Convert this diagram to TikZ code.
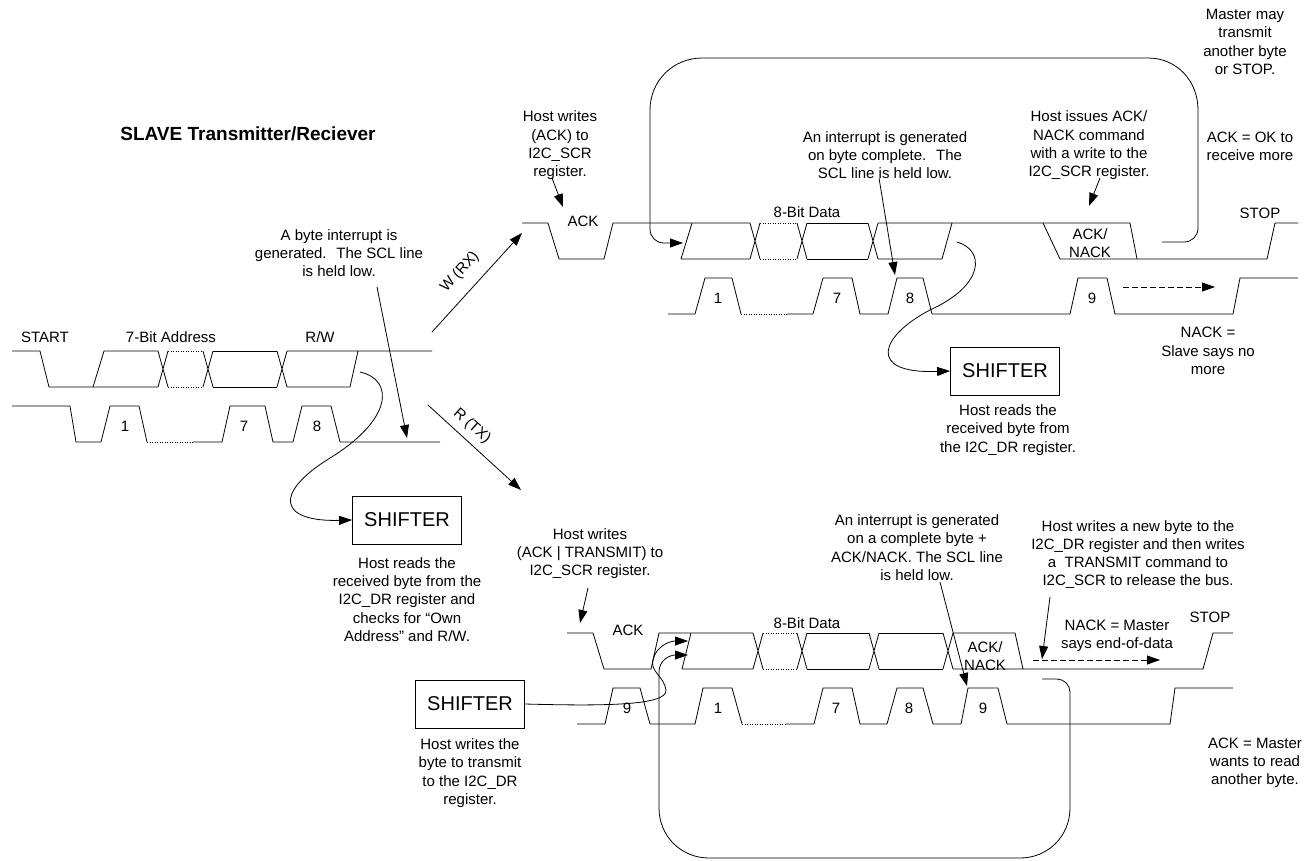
\documentclass[tikz,border=0pt]{standalone}
\usepackage{fontspec}
\setmainfont{Liberation Sans}
\usetikzlibrary{arrows.meta}
\newcommand{\notefont}{\fontsize{15}{18.3}\selectfont}
\tikzset{
  wave/.style={line width=0.8pt},
  dotw/.style={line width=0.8pt, dash pattern=on 1pt off 1.5pt},
  note/.style={font=\notefont, align=center, inner sep=0pt},
  shifter/.style={draw, line width=0.8pt, minimum width=109pt, minimum height=48pt, inner sep=0pt, font=\fontsize{20}{24}\selectfont},
  ptr/.style={-{Triangle[length=13pt,width=9pt]}, line width=0.8pt},
  dptr/.style={ptr, dash pattern=on 6pt off 3pt},
}
% X crossing of a data cell: centre x, high y, low y
\newcommand{\xing}[3]{\draw[wave] (#1-5,#2) -- (#1+5,#3) (#1-5,#3) -- (#1+5,#2);}

\begin{document}
\begin{tikzpicture}[x=1pt,y=-1pt]
  \useasboundingbox (0,0) rectangle (1312,860);
  \node[font=\fontsize{19}{22}\selectfont\bfseries] (title) at (248,134) {SLAVE Transmitter/Reciever};

  % address byte
  \draw[wave] (12,351) -- (40,351) -- (49,387) -- (158,387);
  \draw[wave] (93,387) -- (104,351) -- (158,351);
  \xing{163}{351}{387}
  \draw[dotw] (168,351) -- (203,351) (168,387) -- (203,387);
  \xing{208}{351}{387}
  \draw[wave] (213,351) -- (277,351) (213,387) -- (277,387);
  \xing{282}{351}{387}
  \draw[wave] (287,351) -- (432,351) (287,387) -- (350,387) -- (358,351);
  \draw[wave] (12,406) -- (70,406) -- (76,442) -- (101,442) -- (110,406) -- (139,406) -- (147,442);
  \draw[dotw] (147,442) -- (193,442);
  \draw[wave] (193,442) -- (222,442) -- (230,406) -- (265,406) -- (273,442) -- (293,442) -- (302,406) -- (331,406) -- (340,442) -- (440,442);
  \node[note] (start) at (45,337) {START};
  \node[note] (addr) at (171,337) {7-Bit Address};
  \node[note] (rw) at (320,337) {R/W};
  \node[note] (a1) at (125,426) {1};
  \node[note] (a7) at (244,426) {7};
  \node[note] (a8) at (317,426) {8};

  \node[note] (byteint) at (339,253) {A byte interrupt is\\generated.~ The SCL line\\is held low.};
  \coordinate (bi0) at (377,287);
  \coordinate (bi1) at (407,438);
  \draw[ptr] (bi0) -- (bi1);

  \node[shifter] (shiftL) at (407,520) {SHIFTER};
  \node[note] (rdaddr) at (407,599.5) {Host reads the\\received byte from the\\I2C\_DR register and\\checks for “Own\\Address” and R/W.};
  \coordinate (rwout) at (360,372);
  \draw[ptr] (rwout) .. controls (395,380) and (392,420) .. (330,458) .. controls (272,494) and (280,522) .. (shiftL.west);

  % branches
  \coordinate (wr0) at (432,332);
  \coordinate (wr1) at (522,233);
  \draw[ptr] (wr0) -- (wr1);
  \node[note, rotate=48] (wrx) at (460,272) {W (RX)};
  \coordinate (rt0) at (428,405);
  \coordinate (rt1) at (521,490);
  \draw[ptr] (rt0) -- (rt1);
  \node[note, rotate=-42] (rtx) at (472,426) {R (TX)};

  % receive byte
  \draw[wave] (522,223) -- (548,223) -- (559,259) -- (604,259) -- (613,223) -- (750,223);
  \draw[wave] (681,259) -- (692,223) (681,259) -- (750,259);
  \xing{755}{223}{259}
  \draw[dotw] (760,223) -- (797,223) (760,259) -- (797,259);
  \xing{802}{223}{259}
  \draw[wave] (807,223) -- (868,223) (807,259) -- (868,259);
  \xing{873}{223}{259}
  \draw[wave] (878,223) -- (1130,223) -- (1137,259) (878,259) -- (942,259) -- (952,223);
  \draw[wave] (1043,223) -- (1060,259) -- (1267,259) -- (1275,223) -- (1298,223);
  \draw[wave] (668,314) -- (695,314) -- (705,278) -- (732,278) -- (741,314);
  \draw[dotw] (741,314) -- (787,314);
  \draw[wave] (787,314) -- (813,314) -- (823,278) -- (852,278) -- (860,314) -- (888,314) -- (897,278) -- (923,278) -- (932,314) -- (1070,314) -- (1078,278) -- (1107,278) -- (1115,314) -- (1233,314) -- (1240,278) -- (1298,278);
  \node[note] (rack) at (583,221) {ACK};
  \node[note] (rdata) at (807,212) {8-Bit Data};
  \node[note] (rnack) at (1090,243) {ACK/\\NACK};
  \node[note] (rstop) at (1260,213) {STOP};
  \node[note] (r1) at (718,298) {1};
  \node[note] (r7) at (837,298) {7};
  \node[note] (r8) at (910,298) {8};
  \node[note] (r9) at (1092,298) {9};

  \node[note] (ackw) at (560,145.5) {Host writes\\(ACK) to\\I2C\_SCR\\register.};
  \coordinate (aw0) at (552,178);
  \coordinate (aw1) at (563,207);
  \draw[ptr] (aw0) -- (aw1);
  \node[note] (intup) at (885,155) {An interrupt is generated\\on byte complete.~ The\\SCL line is held low.};
  \coordinate (iu0) at (879,178);
  \coordinate (iu1) at (895,275);
  \draw[ptr] (iu0) -- (iu1);
  \node[note] (issue) at (1089,145.5) {Host issues ACK/\\NACK command\\with a write to the\\I2C\_SCR register.};
  \coordinate (is0) at (1100,178);
  \coordinate (is1) at (1089,206);
  \draw[ptr] (is0) -- (is1);
  \node[note] (master) at (1245,42) {Master may\\transmit\\another byte\\or STOP.};
  \node[note] (okmore) at (1250,146) {ACK = OK to\\receive more};
  \node[note] (nackup) at (1208,351) {NACK =\\Slave says no\\more};
  \coordinate (lp0) at (1162,242);
  \coordinate (lp1) at (683,243);
  \draw[ptr] (lp0) -- (1184,242) .. controls (1192,242) and (1198,236) .. (1198,228) -- (1198,110)
    .. controls (1198,81) and (1177,58) .. (1148,58) -- (702,58)
    .. controls (673,58) and (650,81) .. (650,110) -- (650,229)
    .. controls (650,237) and (656,243) .. (664,243) -- (lp1);
  \coordinate (up0) at (1123,287);
  \coordinate (up1) at (1215,287);
  \draw[dptr] (up0) -- (up1);

  \node[shifter] (shiftR) at (1005,371) {SHIFTER};
  \node[note] (rdup) at (1008,430) {Host reads the\\received byte from\\the I2C\_DR register.};
  \coordinate (b8) at (957,242);
  \draw[ptr] (b8) .. controls (985,250) and (985,285) .. (930,310) .. controls (880,336) and (866,374) .. (shiftR.west);

  % transmit byte
  \draw[wave] (567,633) -- (593,633) -- (604,669) -- (651,669) -- (659,633) -- (753,633);
  \draw[wave] (682,669) -- (691,633) (682,669) -- (753,669);
  \xing{758}{633}{669}
  \draw[dotw] (763,633) -- (797,633) (763,669) -- (797,669);
  \xing{802}{633}{669}
  \draw[wave] (807,633) -- (869,633) (807,669) -- (869,669);
  \xing{874}{633}{669}
  \draw[wave] (879,633) -- (943,633) (879,669) -- (943,669);
  \xing{948}{633}{669}
  \draw[wave] (953,633) -- (1015,633) -- (1023,669) (953,669) -- (1203,669) -- (1213,633) -- (1233,633);
  \draw[wave] (577,724) -- (605,724) -- (613,688) -- (640,688) -- (650,724) -- (695,724) -- (703,688) -- (732,688) -- (742,724);
  \draw[dotw] (742,724) -- (786,724);
  \draw[wave] (786,724) -- (814,724) -- (823,688) -- (852,688) -- (860,724) -- (887,724) -- (897,688) -- (923,688) -- (933,724) -- (961,724) -- (968,688) -- (998,688) -- (1007,724) -- (1170,724) -- (1175,688) -- (1233,688);
  \node[note] (tack) at (628,630) {ACK};
  \node[note] (tdata) at (807,623) {8-Bit Data};
  \node[note] (tnack) at (985,656) {ACK/\\NACK};
  \node[note] (tstop) at (1210,617) {STOP};
  \node[note] (t9a) at (627,708) {9};
  \node[note] (t1) at (718,708) {1};
  \node[note] (t7) at (836,708) {7};
  \node[note] (t8) at (909,708) {8};
  \node[note] (t9) at (983,708) {9};

  \node[note] (txw) at (590,553.5) {Host writes\\(ACK | TRANSMIT) to\\I2C\_SCR register.};
  \coordinate (tw0) at (588,588);
  \coordinate (tw1) at (580,623);
  \draw[ptr] (tw0) -- (tw1);
  \node[note] (intdn) at (917,547.5) {An interrupt is generated\\on a complete byte +\\ACK/NACK. The SCL line\\is held low.};
  \coordinate (id0) at (940,582);
  \coordinate (id1) at (967,686);
  \draw[ptr] (id0) -- (id1);
  \node[note] (newbyte) at (1138,554.5) {Host writes a new byte to the\\I2C\_DR register and then writes\\a~ TRANSMIT command to\\I2C\_SCR to release the bus.};
  \coordinate (nb0) at (1050,597);
  \coordinate (nb1) at (1042,659);
  \draw[ptr] (nb0) -- (nb1);
  \node[note] (nackdn) at (1117,636) {NACK = Master\\says end-of-data};
  \coordinate (dn0) at (1033,660);
  \coordinate (dn1) at (1160,660);
  \draw[dptr] (dn0) -- (dn1);

  \node[shifter] (shiftB) at (470,704) {SHIFTER};
  \node[note] (wrdn) at (470,773) {Host writes the\\byte to transmit\\to the I2C\_DR\\register.};
  \node[note] (ackdn) at (1255,763) {ACK = Master\\wants to read\\another byte.};
  \coordinate (sb1) at (688,641);
  \draw[ptr] (shiftB.east) .. controls (600,706) and (668,706) .. (666,690) .. controls (664,676) and (650,672) .. (653,660) .. controls (656,646) and (670,641) .. (sb1);
  \coordinate (lb0) at (1042,679);
  \coordinate (lb1) at (688,655);
  \draw[ptr] (lb0) -- (1057,679) .. controls (1064,679) and (1070,685) .. (1070,692) -- (1070,808)
    .. controls (1070,836) and (1048,858) .. (1020,858) -- (709,858)
    .. controls (681,858) and (659,836) .. (659,808) -- (659,672)
    .. controls (659,660) and (670,655) .. (lb1);
\end{tikzpicture}
\end{document}
